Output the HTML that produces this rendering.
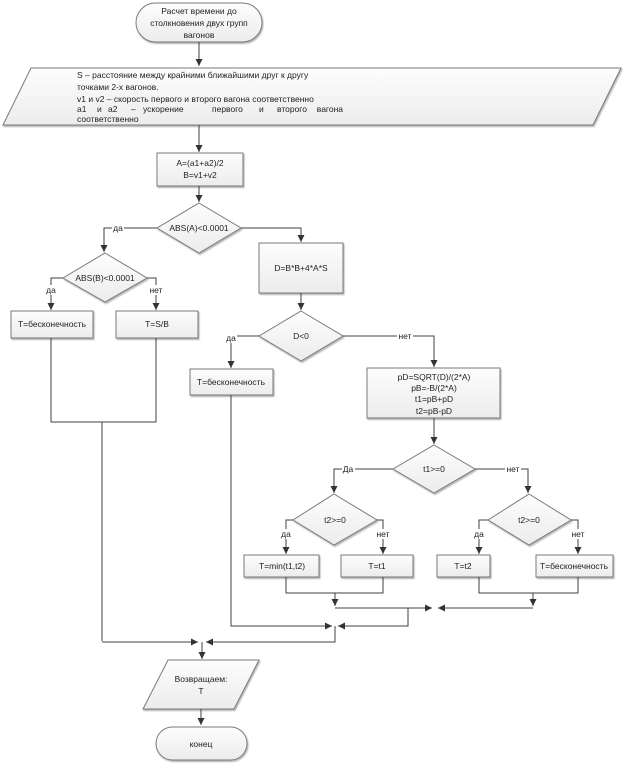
<!DOCTYPE html>
<html><head><meta charset="utf-8"><style>
html,body{margin:0;padding:0;background:#fff;}
svg{display:block;font-family:"Liberation Sans","DejaVu Sans",sans-serif;}
text{font-size:8.5px;fill:#222;}
.l{stroke:#404040;stroke-width:1;fill:none;}
.b{fill:url(#g);stroke:#7a7a7a;stroke-width:1;filter:url(#sh);}
.lab{fill:#fff;}
</style></head><body>
<svg width="624" height="765" viewBox="0 0 624 765" xmlns="http://www.w3.org/2000/svg">
<defs>
<linearGradient id="g" x1="0" y1="0" x2="0" y2="1"><stop offset="0" stop-color="#fdfdfd"/><stop offset="1" stop-color="#ececec"/></linearGradient>
<filter id="sh" x="-10%" y="-10%" width="120%" height="130%"><feDropShadow dx="1" dy="1.5" stdDeviation="0.8" flood-color="#000" flood-opacity="0.3"/></filter>
<marker id="a" markerWidth="8" markerHeight="8" refX="7" refY="4" orient="auto" markerUnits="userSpaceOnUse"><path d="M0,0.5 L7,4 L0,7.5 Z" fill="#333"/></marker>
</defs>

<rect class="b" x="136" y="3" width="126" height="39" rx="19.5"/>
<text x="199" y="14" text-anchor="middle">Расчет времени до</text>
<text x="199" y="26" text-anchor="middle">столкновения двух групп</text>
<text x="199" y="38" text-anchor="middle">вагонов</text>
<path class="l" d="M199,42 V66" marker-end="url(#a)"/>

<polygon class="b" points="31,68 621,68 593,125 3,125"/>
<text x="77" y="78">S – расстояние между крайними ближайшими друг к другу</text>
<text x="77" y="90">точками 2-х вагонов.</text>
<text x="77" y="102">v1 и v2 – скорость первого и второго вагона соответственно</text>
<text x="77" y="112">a1</text>
<text x="97" y="112">и</text>
<text x="108" y="112">a2</text>
<text x="131" y="112">–</text>
<text x="143" y="112">ускорение</text>
<text x="212" y="112">первого</text>
<text x="259" y="112">и</text>
<text x="277" y="112">второго</text>
<text x="343" y="112" text-anchor="end">вагона</text>
<text x="77" y="122">соответственно</text>
<path class="l" d="M199,125 V152" marker-end="url(#a)"/>

<rect class="b" x="157" y="153" width="86" height="33"/>
<text x="200" y="166" text-anchor="middle">A=(a1+a2)/2</text>
<text x="200" y="178" text-anchor="middle">B=v1+v2</text>
<path class="l" d="M199,186 V202" marker-end="url(#a)"/>

<polygon class="b" points="199,203 241,228 199,253 157,228"/>
<text x="199" y="231" text-anchor="middle">ABS(A)&lt;0.0001</text>

<path class="l" d="M157,228 H104 V252" marker-end="url(#a)"/>
<rect class="lab" x="112" y="223" width="12" height="10"/><text x="118" y="231" text-anchor="middle">да</text>
<polygon class="b" points="105,253 147,278 105,302 63,278"/>
<text x="105" y="281" text-anchor="middle">ABS(B)&lt;0.0001</text>
<path class="l" d="M63,278 H51 V310" marker-end="url(#a)"/>
<rect class="lab" x="45" y="285" width="12" height="10"/><text x="51" y="293" text-anchor="middle">да</text>
<path class="l" d="M147,278 H156 V310" marker-end="url(#a)"/>
<rect class="lab" x="148" y="285" width="16" height="10"/><text x="156" y="293" text-anchor="middle">нет</text>
<rect class="b" x="11" y="311" width="82" height="27"/>
<text x="52" y="327" text-anchor="middle">T=бесконечность</text>
<rect class="b" x="116" y="311" width="82" height="27"/>
<text x="157" y="327" text-anchor="middle">T=S/B</text>
<path class="l" d="M51,338 V422 H156 V338"/>
<path class="l" d="M102,422 V641"/>

<path class="l" d="M241,228 H301 V242" marker-end="url(#a)"/>
<rect class="b" x="259" y="243" width="84" height="50"/>
<text x="301" y="271" text-anchor="middle">D=B*B+4*A*S</text>
<path class="l" d="M301,293 V310" marker-end="url(#a)"/>
<polygon class="b" points="301,311 343,336 301,361 259,336"/>
<text x="301" y="339" text-anchor="middle">D&lt;0</text>
<path class="l" d="M259,336 H231 V368" marker-end="url(#a)"/>
<rect class="lab" x="224" y="333" width="13" height="10"/><text x="231" y="341" text-anchor="middle">да</text>
<rect class="b" x="190" y="369" width="83" height="26"/>
<text x="231" y="385" text-anchor="middle">T=бесконечность</text>
<path class="l" d="M231,395 V626 H332" marker-end="url(#a)"/>

<path class="l" d="M343,336 H434 V367" marker-end="url(#a)"/>
<rect class="lab" x="397" y="331" width="16" height="10"/><text x="405" y="339" text-anchor="middle">нет</text>
<rect class="b" x="367" y="368" width="133" height="50"/>
<text x="434" y="380" text-anchor="middle">pD=SQRT(D)/(2*A)</text>
<text x="434" y="391" text-anchor="middle">pB=-B/(2*A)</text>
<text x="434" y="402" text-anchor="middle">t1=pB+pD</text>
<text x="434" y="414" text-anchor="middle">t2=pB-pD</text>
<path class="l" d="M434,418 V444" marker-end="url(#a)"/>
<polygon class="b" points="434,445 475,469 434,493 393,469"/>
<text x="434" y="472" text-anchor="middle">t1&gt;=0</text>
<path class="l" d="M393,469 H334 V493" marker-end="url(#a)"/>
<rect class="lab" x="342" y="464" width="13" height="10"/><text x="348" y="472" text-anchor="middle">Да</text>
<path class="l" d="M475,469 H528 V493" marker-end="url(#a)"/>
<rect class="lab" x="505" y="464" width="16" height="10"/><text x="513" y="472" text-anchor="middle">нет</text>

<polygon class="b" points="334,494 377,520 334,545 293,520"/>
<text x="335" y="523" text-anchor="middle">t2&gt;=0</text>
<path class="l" d="M293,520 H286 V554" marker-end="url(#a)"/>
<rect class="lab" x="280" y="529" width="12" height="10"/><text x="286" y="537" text-anchor="middle">да</text>
<path class="l" d="M377,520 H383 V554" marker-end="url(#a)"/>
<rect class="lab" x="375" y="529" width="16" height="10"/><text x="383" y="537" text-anchor="middle">нет</text>

<polygon class="b" points="529,494 571,520 529,545 488,520"/>
<text x="529" y="523" text-anchor="middle">t2&gt;=0</text>
<path class="l" d="M488,520 H479 V554" marker-end="url(#a)"/>
<rect class="lab" x="473" y="529" width="12" height="10"/><text x="479" y="537" text-anchor="middle">да</text>
<path class="l" d="M571,520 H578 V554" marker-end="url(#a)"/>
<rect class="lab" x="570" y="529" width="16" height="10"/><text x="578" y="537" text-anchor="middle">нет</text>

<rect class="b" x="244" y="555" width="75" height="22"/>
<text x="282" y="569" text-anchor="middle">T=min(t1,t2)</text>
<rect class="b" x="341" y="555" width="72" height="22"/>
<text x="377" y="569" text-anchor="middle">T=t1</text>
<rect class="b" x="437" y="555" width="53" height="22"/>
<text x="463" y="569" text-anchor="middle">T=t2</text>
<rect class="b" x="536" y="555" width="77" height="22"/>
<text x="574" y="569" text-anchor="middle">T=бесконечность</text>

<path class="l" d="M286,577 V593 H383 V577"/>
<path class="l" d="M335,593 V606" marker-end="url(#a)"/>
<path class="l" d="M479,577 V593 H578 V577"/>
<path class="l" d="M533,593 V606" marker-end="url(#a)"/>
<path class="l" d="M335,608 H432" marker-end="url(#a)"/>
<path class="l" d="M533,608 H438" marker-end="url(#a)"/>
<path class="l" d="M408,608 V626 H338" marker-end="url(#a)"/>
<path class="l" d="M335,626 V642 H206" marker-end="url(#a)"/>
<path class="l" d="M102,642 H198" marker-end="url(#a)"/>
<path class="l" d="M202,642 V659" marker-end="url(#a)"/>

<polygon class="b" points="168,660 259,660 234,709 143,709"/>
<text x="201" y="682" text-anchor="middle">Возвращаем:</text>
<text x="201" y="694" text-anchor="middle">T</text>
<path class="l" d="M201,709 V725" marker-end="url(#a)"/>
<rect class="b" x="156" y="727" width="91" height="33" rx="16.5"/>
<text x="201" y="747" text-anchor="middle">конец</text>
</svg>
</body></html>
